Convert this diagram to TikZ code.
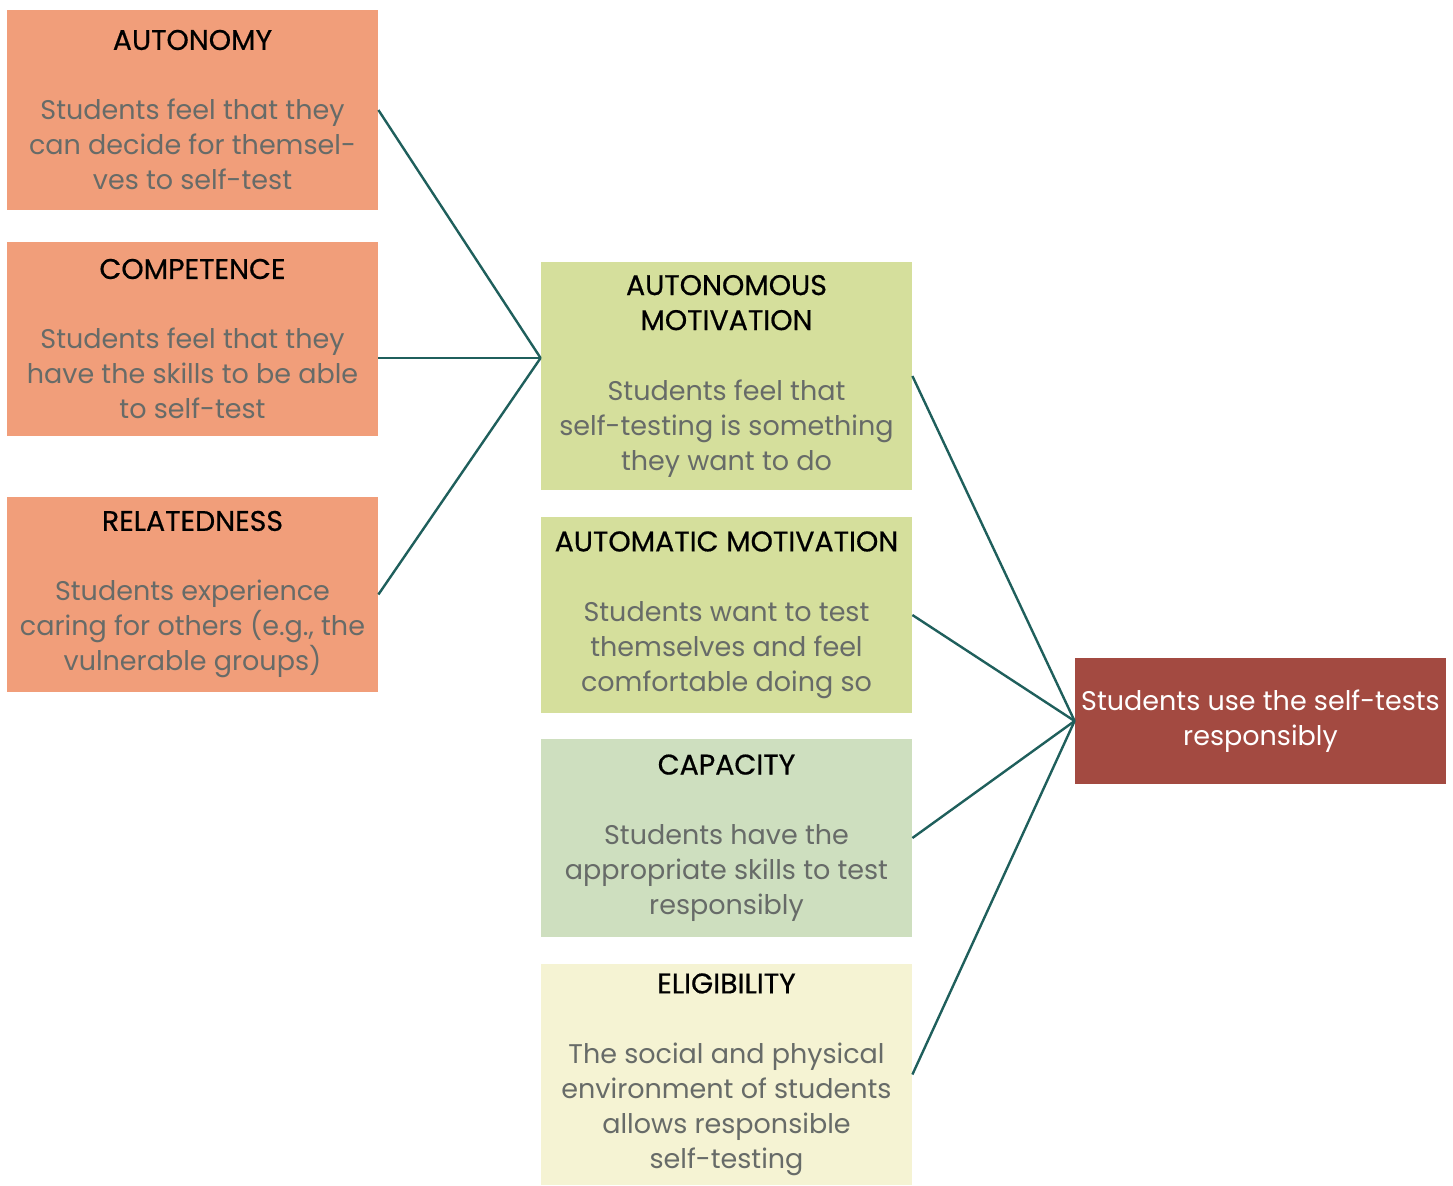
\documentclass[tikz,border=0pt]{standalone}
\usepackage{fontspec}
\setmainfont{Poppins}
\usepackage{tikz}
\definecolor{peach}{HTML}{F19E7A}
\definecolor{lime}{HTML}{D5DF9C}
\definecolor{sage}{HTML}{CEDFBF}
\definecolor{cream}{HTML}{F5F3D3}
\definecolor{brick}{HTML}{A34A41}
\definecolor{pine}{HTML}{1F5F5C}
\definecolor{bodygray}{HTML}{676B68}
\newcommand\boxtitle[1]{{\color{black}\fontsize{14.2}{17.5}\selectfont\addfontfeature{FakeBold=0.6}#1}}

\begin{document}
\begin{tikzpicture}[x=0.5pt,y=-0.5pt] \tikzset{% This is the style settings for the boxes
        box/.style={rectangle,minimum width=185.5pt,inner sep=0pt,align=center,
          font=\fontsize{13.5}{17.5}\selectfont,text=bodygray},
        need/.style={box,fill=peach}, motiv/.style={box,fill=lime},
        capa/.style={box,fill=sage}, elig/.style={box,fill=cream},
        goal/.style={box,fill=brick,text=white},
        link/.style={draw=pine,line width=1.2pt},
        }
        \useasboundingbox (0,0) rectangle (1453,1185);
        % Nodes
        \node[need,minimum height=100pt] (auton) at (192.5,110) {\boxtitle{AUTONOMY}\\[17.5pt]
          Students feel that they\\can decide for themsel-\\ves to self-test};
        \node[need,minimum height=97pt] (compet) at (192.5,339) {\boxtitle{COMPETENCE}\\[17.5pt]
          Students feel that they\\have the skills to be able\\to self-test};
        \node[need,minimum height=97.5pt] (relat) at (192.5,594.5) {\boxtitle{RELATEDNESS}\\[17.5pt]
          Students experience\\caring for others (e.g., the\\vulnerable groups)};
        \node[motiv,minimum height=114pt] (amot) at (726.5,376) {\boxtitle{AUTONOMOUS}\\\boxtitle{MOTIVATION}\\[17.5pt]
          Students feel that\\self-testing is something\\they want to do};
        \node[motiv,minimum height=98pt] (automot) at (726.5,615) {\boxtitle{AUTOMATIC MOTIVATION}\\[17.5pt]
          Students want to test\\themselves and feel\\comfortable doing so};
        \node[capa,minimum height=99pt] (capac) at (726.5,838) {\boxtitle{CAPACITY}\\[17.5pt]
          Students have the\\appropriate skills to test\\responsibly};
        \node[elig,minimum height=110.5pt] (eligib) at (726.5,1074.5) {\boxtitle{ELIGIBILITY}\\[17.5pt]
          The social and physical\\environment of students\\allows responsible\\self-testing};
        \node[goal,minimum height=63pt] (use) at (1260.5,721) {Students use the self-tests\\responsibly};
        \coordinate (hub) at ([yshift=9pt]amot.west);
        %Edges
        \draw[link] (auton.east) -- (hub); \draw[link] (compet.east |- hub) -- (hub);
        \draw[link] (relat.east) -- (hub);
        \draw[link] (amot.east) -- (use.west); \draw[link] (automot.east) -- (use.west);
        \draw[link] (capac.east) -- (use.west); \draw[link] (eligib.east) -- (use.west);
\end{tikzpicture}
\end{document}
